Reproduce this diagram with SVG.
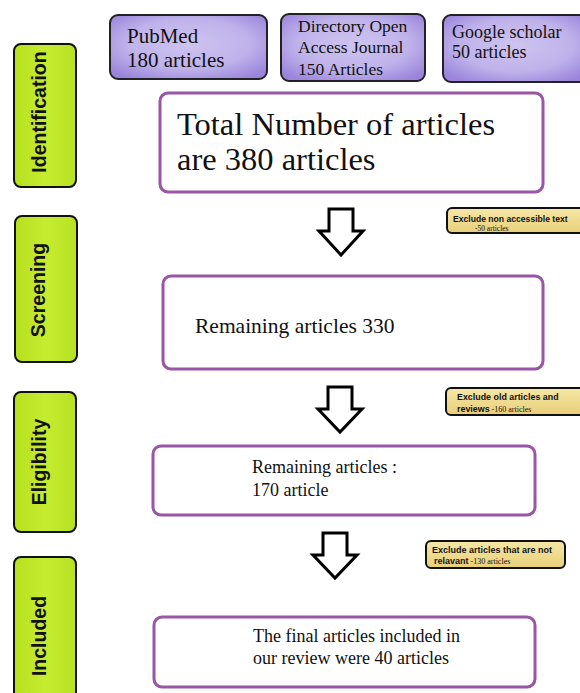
<svg xmlns="http://www.w3.org/2000/svg" width="580" height="693" viewBox="0 0 580 693">
<defs>
<radialGradient id="gPurple" cx="50%" cy="45%" r="65%">
<stop offset="0" stop-color="#cdc4ef"/>
<stop offset="0.6" stop-color="#bfb2ea"/>
<stop offset="1" stop-color="#9a84dc"/>
</radialGradient>
<linearGradient id="gGreen" x1="0" y1="0" x2="1" y2="0">
<stop offset="0" stop-color="#b6e01e"/>
<stop offset="0.5" stop-color="#c6ec30"/>
<stop offset="1" stop-color="#b8e122"/>
</linearGradient>
<linearGradient id="gYellow" x1="0" y1="0" x2="0" y2="1">
<stop offset="0" stop-color="#f6e7a6"/>
<stop offset="1" stop-color="#e8cf7a"/>
</linearGradient>
</defs>
<style>
.stage rect{fill:url(#gGreen);stroke:#111;stroke-width:2}
.stage text{font-family:"Liberation Sans",Arial,sans-serif;font-weight:bold;font-size:19.5px;fill:#111;text-anchor:middle}
.src rect{fill:url(#gPurple);stroke:#222;stroke-width:2}
.box rect{fill:#fff;stroke:#9a55a6;stroke-width:3}
.ex rect{fill:url(#gYellow);stroke:#111;stroke-width:2}
.serif{font-family:"Liberation Serif","Times New Roman",serif;fill:#111}
.bold{font-family:"Liberation Sans",Arial,sans-serif;font-weight:bold;fill:#111}
.arrow{fill:#fff;stroke:#000;stroke-width:3;stroke-linejoin:miter}
</style>
<rect width="580" height="693" fill="#fff"/>

<g id="stage-identification" class="stage">
<rect x="14" y="44" width="62" height="143" rx="7"/>
<text transform="translate(46,112) rotate(-90)">Identification</text>
</g>
<g id="stage-screening" class="stage">
<rect x="15" y="216" width="62" height="146" rx="7"/>
<text transform="translate(45,290) rotate(-90)">Screening</text>
</g>
<g id="stage-eligibility" class="stage">
<rect x="14" y="392" width="62" height="140" rx="7"/>
<text transform="translate(46,462) rotate(-90)">Eligibility</text>
</g>
<g id="stage-included" class="stage">
<rect x="14" y="557" width="62" height="145" rx="7"/>
<text transform="translate(46,636) rotate(-90)">Included</text>
</g>

<g id="src-pubmed" class="src">
<rect x="110" y="15" width="157" height="64" rx="8"/>
<text class="serif" font-size="21" x="127" y="43">PubMed</text>
<text class="serif" font-size="21" x="127" y="67">180 articles</text>
</g>
<g id="src-doaj" class="src">
<rect x="281" y="14" width="144" height="67" rx="8"/>
<text class="serif" font-size="17.5" x="298" y="32">Directory Open</text>
<text class="serif" font-size="17.5" x="298" y="53">Access Journal</text>
<text class="serif" font-size="17.5" x="298" y="75">150 Articles</text>
</g>
<g id="src-google" class="src">
<rect x="443" y="15" width="145" height="67" rx="8"/>
<text class="serif" font-size="18" x="452" y="38">Google scholar</text>
<text class="serif" font-size="18" x="452" y="58">50 articles</text>
</g>

<g id="box-total" class="box">
<rect x="160" y="93" width="383" height="99" rx="8"/>
<text class="serif" font-size="32.5" x="177" y="135">Total Number of articles</text>
<text class="serif" font-size="32.5" x="177" y="170">are 380 articles</text>
</g>
<g id="box-screening" class="box">
<rect x="163" y="276" width="380" height="93" rx="8"/>
<text class="serif" font-size="21.5" x="195" y="333">Remaining articles 330</text>
</g>
<g id="box-eligibility" class="box">
<rect x="153" y="446" width="382" height="69" rx="8"/>
<text class="serif" font-size="18" x="252" y="473">Remaining articles :</text>
<text class="serif" font-size="18" x="252" y="496">170 article</text>
</g>
<g id="box-included" class="box">
<rect x="154" y="617" width="381" height="70" rx="8"/>
<text class="serif" font-size="18" x="253" y="642">The final articles included in</text>
<text class="serif" font-size="18" x="253" y="664">our review were 40 articles</text>
</g>

<g id="ex-screening" class="ex">
<rect x="447" y="208" width="140" height="25" rx="5"/>
<text class="bold" font-size="8.6" x="453" y="222">Exclude non accessible text</text>
<text class="serif" font-size="7.5" x="475" y="231">-50  articles</text>
</g>
<g id="ex-eligibility" class="ex">
<rect x="446" y="388" width="140" height="27" rx="5"/>
<text class="bold" font-size="8.9" x="457" y="400">Exclude old articles and</text>
<text x="457" y="412"><tspan class="bold" font-size="8.9">reviews</tspan><tspan class="serif" font-size="8"> -160 articles</tspan></text>
</g>
<g id="ex-included" class="ex">
<rect x="426" y="541" width="139" height="27" rx="5"/>
<text class="bold" font-size="9" x="432" y="553">Exclude articles that are not</text>
<text x="434" y="564"><tspan class="bold" font-size="9">relavant</tspan><tspan class="serif" font-size="8"> -130 articles</tspan></text>
</g>

<g id="connectors">
<path class="arrow" d="M329,209 H353 V231 H363 L341,255 L319,231 H329 Z"/>
<path class="arrow" d="M328,387 H352 V409 H362 L340,432 L318,409 H328 Z"/>
<path class="arrow" d="M323,533 H347 V555 H357 L335,578 L313,555 H323 Z"/>
</g>
</svg>
